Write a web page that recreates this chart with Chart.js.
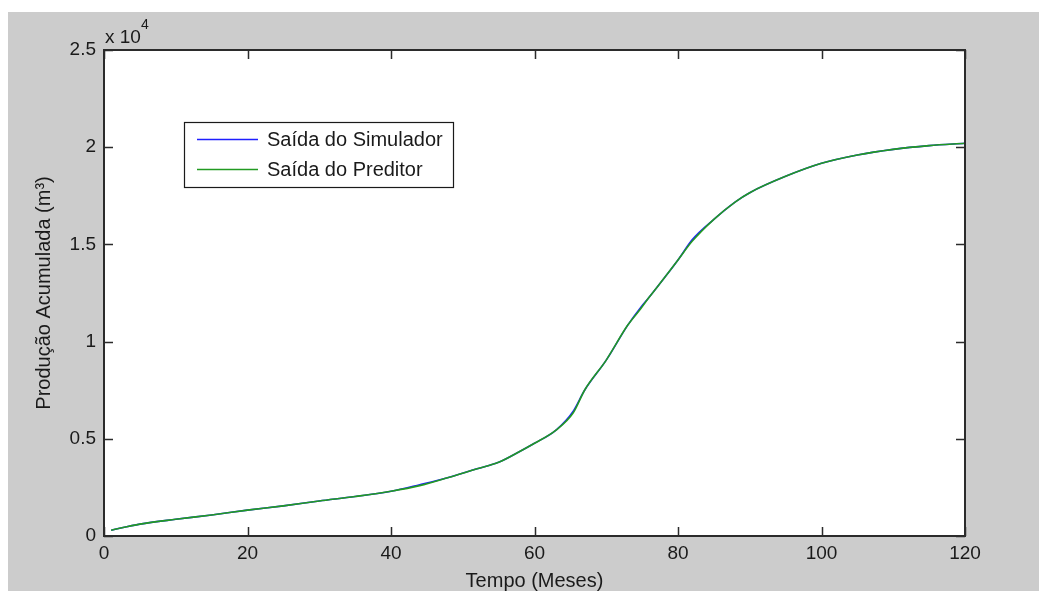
<!DOCTYPE html>
<html>
<head>
<meta charset="utf-8">
<script src="https://cdn.jsdelivr.net/npm/chart.js@4/dist/chart.umd.min.js"></script>
<style>
  html, body { margin: 0; padding: 0; background: #ffffff; }
  #wrap { position: relative; width: 1039px; height: 591px; }
</style>
</head>
<body>
<div id="wrap"><canvas id="grafico"></canvas></div>
<script>
// meses e produção acumulada (m³)
const meses = [1, 5, 10, 15, 20, 25, 30, 35, 40, 44, 48, 52, 55, 58, 60, 63, 65.4, 67, 70, 73, 74.8, 76, 78, 80, 82, 85, 88, 90, 95, 100, 105, 110, 115, 120];
const saidaSimulador = [300, 610, 860, 1080, 1330, 1550, 1800, 2030, 2300, 2640, 3010, 3460, 3790, 4360, 4770, 5450, 6420, 7510, 9050, 10850, 11760, 12290, 13230, 14200, 15250, 16290, 17190, 17660, 18500, 19170, 19600, 19890, 20080, 20200];
const saidaPreditor = [300, 610, 860, 1080, 1330, 1550, 1800, 2030, 2300, 2590, 3010, 3460, 3790, 4360, 4770, 5450, 6340, 7510, 9050, 10850, 11690, 12290, 13230, 14200, 15170, 16290, 17190, 17660, 18500, 19170, 19600, 19890, 20080, 20200];

const ticksX = [0, 20, 40, 60, 80, 100, 120];
const ticksY = [0, 5000, 10000, 15000, 20000, 25000];

const fonte = "'Liberation Sans', Arial, sans-serif";
const corEixo = "#2b2b2b";

function pontos(xs, ys) {
    return xs.map((x, i) => ({ x: x, y: ys[i] }));
}

// fundo cinza da figura e área branca dos eixos
const fundo = {
    id: "fundo",
    beforeDraw(chart) {
        const ctx = chart.ctx;
        const a = chart.chartArea;
        ctx.save();
        ctx.fillStyle = "#ffffff";
        ctx.fillRect(0, 0, chart.width, chart.height);
        ctx.fillStyle = "#cccccc";
        ctx.fillRect(8, 12, chart.width - 8, chart.height - 12);
        ctx.fillStyle = "#ffffff";
        ctx.fillRect(a.left, a.top, a.right - a.left, a.bottom - a.top);
        ctx.restore();
    }
};

// moldura, marcas internas, legenda e expoente
const moldura = {
    id: "moldura",
    afterDatasetsDraw(chart) {
        const ctx = chart.ctx;
        const a = chart.chartArea;
        const sx = chart.scales.x;
        const sy = chart.scales.y;
        ctx.save();
        ctx.strokeStyle = corEixo;
        ctx.lineWidth = 1.5;
        ctx.beginPath();
        sx.ticks.forEach(t => {
            const px = Math.round(sx.getPixelForValue(t.value)) + 0.5;
            ctx.moveTo(px, a.bottom);
            ctx.lineTo(px, a.bottom - 9);
            ctx.moveTo(px, a.top);
            ctx.lineTo(px, a.top + 9);
        });
        sy.ticks.forEach(t => {
            const py = Math.round(sy.getPixelForValue(t.value)) + 0.5;
            ctx.moveTo(a.left, py);
            ctx.lineTo(a.left + 9, py);
            ctx.moveTo(a.right, py);
            ctx.lineTo(a.right - 9, py);
        });
        ctx.stroke();

        ctx.lineWidth = 2;
        ctx.strokeRect(a.left, a.top, a.right - a.left, a.bottom - a.top);

        // legenda
        const lx = 184, ly = 122, lw = 269, lh = 65;
        ctx.fillStyle = "#ffffff";
        ctx.fillRect(lx, ly, lw, lh);
        ctx.lineWidth = 1.2;
        ctx.strokeStyle = "#1a1a1a";
        ctx.strokeRect(lx + 0.5, ly + 0.5, lw, lh);
        ctx.font = "20px " + fonte;
        ctx.textBaseline = "middle";
        ctx.textAlign = "left";
        chart.data.datasets.forEach((ds, i) => {
            const y = 139.5 + i * 30;
            ctx.strokeStyle = ds.borderColor;
            ctx.lineWidth = 1.5;
            ctx.beginPath();
            ctx.moveTo(197, y);
            ctx.lineTo(258, y);
            ctx.stroke();
            ctx.fillStyle = "#1a1a1a";
            ctx.fillText(ds.label, 267, y + 1);
        });

        // fator de escala do eixo y
        ctx.fillStyle = "#1a1a1a";
        ctx.textBaseline = "alphabetic";
        ctx.font = "19px " + fonte;
        ctx.fillText("x 10", 105, 43);
        ctx.font = "14px " + fonte;
        ctx.fillText("4", 141, 29);
        ctx.restore();
    }
};

new Chart(document.getElementById("grafico"), {
    type: "line",
    data: {
        datasets: [
            {
                label: "Saída do Simulador",
                data: pontos(meses, saidaSimulador),
                borderColor: "#1f1fff",
                borderWidth: 1.6,
                pointRadius: 0,
                cubicInterpolationMode: "monotone",
                fill: false,
                order: 1
            },
            {
                // a saída do preditor fica por cima
                label: "Saída do Preditor",
                data: pontos(meses, saidaPreditor),
                borderColor: "#229a22",
                borderWidth: 1.6,
                pointRadius: 0,
                cubicInterpolationMode: "monotone",
                fill: false,
                order: 0
            }
        ]
    },
    options: {
        responsive: true,
        maintainAspectRatio: false,
        animation: false,
        layout: { padding: { top: 50, right: 74, bottom: 0, left: 0 } },
        plugins: {
            legend: { display: false },
            tooltip: { enabled: false }
        },
        scales: {
            x: {
                type: "linear",
                min: 0,
                max: 120,
                afterFit(scale) { scale.height = 55; },
                afterBuildTicks(scale) { scale.ticks = ticksX.map(v => ({ value: v })); },
                grid: { display: false, drawTicks: false },
                border: { display: false },
                ticks: {
                    color: "#1a1a1a",
                    padding: 6,
                    maxRotation: 0,
                    font: { family: fonte, size: 19 }
                },
                title: {
                    display: true,
                    text: "Tempo (Meses)",
                    color: "#1a1a1a",
                    padding: 0,
                    font: { family: fonte, size: 20, lineHeight: 1 }
                }
            },
            y: {
                type: "linear",
                min: 0,
                max: 25000,
                afterFit(scale) { scale.width = 104; },
                afterBuildTicks(scale) { scale.ticks = ticksY.map(v => ({ value: v })); },
                grid: { display: false, drawTicks: false },
                border: { display: false },
                ticks: {
                    color: "#1a1a1a",
                    padding: 8,
                    font: { family: fonte, size: 19 },
                    callback: v => String(v / 10000)
                },
                title: {
                    display: true,
                    text: "Produção Acumulada (m³)",
                    color: "#1a1a1a",
                    padding: { top: 32, bottom: 0 },
                    font: { family: fonte, size: 20, lineHeight: 1.2 }
                }
            }
        }
    },
    plugins: [fundo, moldura]
});
</script>
</body>
</html>
